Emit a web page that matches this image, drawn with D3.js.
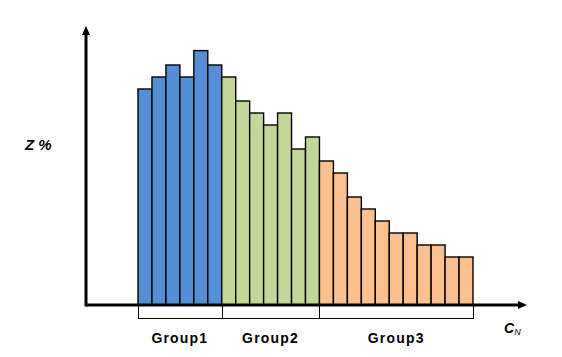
<!DOCTYPE html>
<html>
<head>
<meta charset="utf-8">
<script src="https://cdn.jsdelivr.net/npm/d3@7"></script>
<style>
  html, body { margin: 0; padding: 0; background: #fff; }
  svg { display: block; }
</style>
</head>
<body>
<svg id="chart" width="562" height="357"></svg>
<script>
// ---- data ----
const groups = ["Group1", "Group2", "Group3"];
const group1Values = [18, 19, 20, 19, 21.2, 20];
const group2Values = [19, 17, 16, 15, 16, 13, 14];
const group3Values = [12, 11, 9, 8, 7, 6, 6, 5, 5, 4, 4];
const groupColors = ["#558ED5", "#C4D79B", "#FAC090"];
const yLabel = "Z %";
const xLabel = "C";
const xLabelSub = "N";

// ---- build bar table ----
const seriesValues = [group1Values, group2Values, group3Values];
const bars = [];
seriesValues.forEach((vals, gi) => {
  vals.forEach((v, i) => bars.push({ id: gi + "-" + i, group: gi, value: v }));
});

const svg = d3.select("#chart");
const x0 = 138, x1 = 473, yBase = 305, yTop = 26;

const x = d3.scaleBand().domain(bars.map(d => d.id)).range([x0, x1]).paddingInner(0).paddingOuter(0);
const y = d3.scaleLinear().domain([0, 23.25]).range([yBase, yTop]);

// bars
svg.append("g").selectAll("rect").data(bars).join("rect")
  .attr("x", d => x(d.id))
  .attr("y", d => y(d.value))
  .attr("width", x.bandwidth())
  .attr("height", d => y(0) - y(d.value))
  .attr("fill", d => groupColors[d.group])
  .attr("stroke", "#000")
  .attr("stroke-width", 1.4);

// group bracket below axis
const groupBounds = [];
let start = 0;
seriesValues.forEach((vals, gi) => {
  const first = bars[start].id, last = bars[start + vals.length - 1].id;
  groupBounds.push({ name: groups[gi], left: x(first), right: x(last) + x.bandwidth() });
  start += vals.length;
});
const bracketY = 318;
const br = svg.append("g").attr("stroke", "#000").attr("stroke-width", 1);
br.append("line").attr("x1", x0).attr("x2", x1).attr("y1", bracketY + 0.5).attr("y2", bracketY + 0.5);
const edges = [groupBounds[0].left].concat(groupBounds.map(g => g.right));
br.selectAll("line.tick").data(edges).join("line").attr("class", "tick")
  .attr("x1", d => Math.round(d) + 0.5).attr("x2", d => Math.round(d) + 0.5)
  .attr("y1", yBase).attr("y2", bracketY + 1);

svg.append("g").selectAll("text").data(groupBounds).join("text")
  .attr("x", d => (d.left + d.right) / 2)
  .attr("y", 343)
  .attr("text-anchor", "middle")
  .attr("font-family", "Arial, 'Liberation Sans', sans-serif")
  .attr("font-weight", "bold")
  .attr("font-size", 14)
  .attr("letter-spacing", 1.2)
  .attr("fill", "#000")
  .text(d => d.name);

// axes with arrows
const axisX = 86;
const ax = svg.append("g");
ax.append("line").attr("x1", axisX).attr("x2", 521).attr("y1", yBase).attr("y2", yBase)
  .attr("stroke", "#000").attr("stroke-width", 3);
ax.append("path").attr("d", `M527,${yBase} L518,${yBase - 4} L518,${yBase + 4} Z`).attr("fill", "#000");
ax.append("line").attr("x1", axisX).attr("x2", axisX).attr("y1", yBase + 1.5).attr("y2", 33)
  .attr("stroke", "#000").attr("stroke-width", 3);
ax.append("path").attr("d", `M${axisX},${yTop} L${axisX - 4},${yTop + 9} L${axisX + 4},${yTop + 9} Z`).attr("fill", "#000");

// axis labels
svg.append("text").attr("x", 25).attr("y", 150)
  .attr("font-family", "Arial, 'Liberation Sans', sans-serif")
  .attr("font-weight", "bold").attr("font-style", "italic").attr("font-size", 15)
  .text(yLabel);

const cl = svg.append("text").attr("x", 504).attr("y", 333)
  .attr("font-family", "Arial, 'Liberation Sans', sans-serif")
  .attr("font-weight", "bold").attr("font-style", "italic").attr("font-size", 14);
cl.append("tspan").text(xLabel);
cl.append("tspan").attr("font-size", 9).attr("font-weight", "normal").attr("dy", 2).text(xLabelSub);
</script>
</body>
</html>
